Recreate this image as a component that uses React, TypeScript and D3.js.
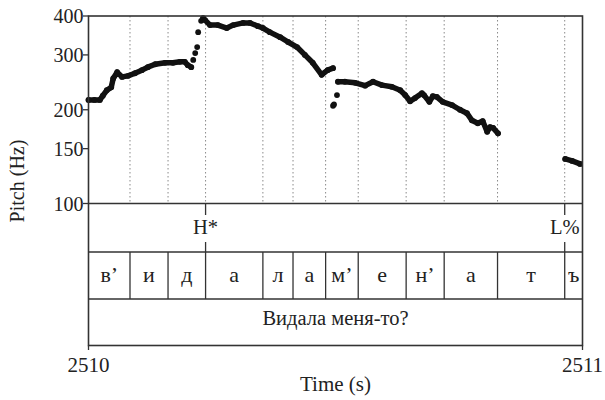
import React from "react";
import * as d3 from "d3";

// ---- data (time offsets from 2510 s, pitch in Hz) ----
const timeDomain = [2510, 2511];
const pitchTicks = [100, 150, 200, 300, 400];
const timeTicks = [2510, 2511];

const run1: [number, number][] = [
  [0.0, 215], [0.012, 215], [0.023, 215], [0.029, 222], [0.037, 231], [0.046, 236],
  [0.05, 252], [0.058, 264], [0.068, 255], [0.08, 257], [0.094, 262], [0.108, 268],
  [0.12, 274], [0.135, 280], [0.155, 283], [0.171, 283], [0.185, 285], [0.195, 285],
  [0.201, 278], [0.208, 274],
];
const rise: [number, number][] = [
  [0.212, 289], [0.216, 304], [0.22, 318], [0.222, 355], [0.228, 386],
];
const run2: [number, number][] = [
  [0.232, 394], [0.236, 388], [0.246, 374], [0.262, 374], [0.28, 366], [0.293, 374],
  [0.313, 380], [0.327, 380], [0.343, 371], [0.353, 366], [0.367, 355], [0.388, 342],
  [0.404, 330], [0.422, 318], [0.438, 300], [0.454, 283], [0.472, 259], [0.484, 268],
  [0.495, 272],
];
const dip: [number, number][] = [[0.495, 206], [0.497, 208], [0.503, 223]];
const run3: [number, number][] = [
  [0.505, 246], [0.519, 246], [0.54, 244], [0.56, 239], [0.576, 246], [0.594, 240],
  [0.614, 237], [0.631, 231], [0.641, 223], [0.651, 213], [0.661, 218], [0.675, 226],
  [0.679, 223], [0.69, 212], [0.697, 221], [0.705, 220], [0.717, 212], [0.736, 207],
  [0.752, 200], [0.766, 195], [0.776, 185], [0.788, 181], [0.798, 184], [0.807, 170],
  [0.813, 176], [0.819, 175], [0.829, 168],
];
const run4: [number, number][] = [[0.965, 139], [0.979, 137], [0.995, 134]];

const segBounds = [0, 0.084, 0.161, 0.237, 0.353, 0.414, 0.48, 0.546, 0.643, 0.72, 0.828, 0.964, 1.0];
const segLabels = ["в’", "и", "д", "а", "л", "а", "м’", "е", "н’", "а", "т", "ъ"];
const toneTimes = [0.237, 0.964];
const toneLabels = ["H*", "L%"];
const sentence = "Видала меня-то?";

export default function App() {
  const W = 605, H = 400;
  const left = 88.5, right = 582.5;
  const top = 16, pitchBottom = 203.5;
  const tier1Bottom = 252, tier2Bottom = 299, tier3Bottom = 345.5;

  const x = d3.scaleLinear().domain(timeDomain).range([left, right]);
  const y = d3.scaleLog().domain([100, 400]).range([pitchBottom, top]);
  const tx = (t: number) => x(2510 + t);

  const line = d3.line<[number, number]>().x((d) => tx(d[0])).y((d) => y(d[1]));
  const runs = [run1, run2, run3, run4];
  const allPts = [...run1, ...rise, ...run2, ...dip, ...run3, ...run4];

  const font = "'Liberation Serif', 'Times New Roman', serif";
  const frame = "#333";

  return (
    <svg width={W} height={H} style={{ position: "absolute", left: 0, top: 0, background: "#fff" }} fontFamily={font}>
      <rect x={0} y={0} width={W} height={H} fill="#fff" />
      {/* dotted boundaries in pitch panel */}
      {segBounds.slice(1, -1).map((b, i) => (
        <line key={"d" + i} x1={tx(b)} x2={tx(b)} y1={top} y2={pitchBottom} stroke="#8a8a8a" strokeWidth={1} strokeDasharray="1.5,2.5" />
      ))}
      {/* pitch */}
      {runs.map((r, i) => (
        <path key={"r" + i} d={line(r) || ""} fill="none" stroke="#111" strokeWidth={5.5} strokeLinecap="round" strokeLinejoin="round" />
      ))}
      {allPts.map((p, i) => (
        <circle key={"p" + i} cx={tx(p[0])} cy={y(p[1])} r={2.9} fill="#111" />
      ))}
      {/* frames */}
      <rect x={left} y={top} width={right - left} height={tier3Bottom - top} fill="none" stroke={frame} strokeWidth={1.6} />
      <line x1={left} x2={right} y1={pitchBottom} y2={pitchBottom} stroke={frame} strokeWidth={1.6} />
      <line x1={left} x2={right} y1={tier1Bottom} y2={tier1Bottom} stroke={frame} strokeWidth={1.5} />
      <line x1={left} x2={right} y1={tier2Bottom} y2={tier2Bottom} stroke={frame} strokeWidth={1.5} />
      {/* y axis */}
      {pitchTicks.map((v) => (
        <g key={"yt" + v}>
          <line x1={left - 5.5} x2={left} y1={y(v)} y2={y(v)} stroke={frame} strokeWidth={1.3} />
          <text x={left - 5} y={y(v)} dy="0.35em" textAnchor="end" fontSize={20} fill="#222">{v}</text>
        </g>
      ))}
      <text transform={`translate(24,181) rotate(-90)`} textAnchor="middle" fontSize={20} fill="#222">Pitch (Hz)</text>
      {/* tone tier */}
      {toneTimes.map((t, i) => (
        <g key={"tn" + i}>
          <line x1={tx(t)} x2={tx(t)} y1={pitchBottom} y2={215} stroke={frame} strokeWidth={1.3} />
          <line x1={tx(t)} x2={tx(t)} y1={242} y2={tier1Bottom} stroke={frame} strokeWidth={1.3} />
          <text x={tx(t)} y={234} textAnchor="middle" fontSize={20.5} fill="#222">{toneLabels[i]}</text>
        </g>
      ))}
      {/* segment tier */}
      {segBounds.slice(1, -1).map((b, i) => (
        <line key={"sb" + i} x1={tx(b)} x2={tx(b)} y1={tier1Bottom} y2={tier2Bottom} stroke={frame} strokeWidth={1.3} />
      ))}
      {segLabels.map((s, i) => (
        <text key={"sl" + i} x={(tx(segBounds[i]) + tx(segBounds[i + 1])) / 2} y={282} textAnchor="middle" fontSize={22} fill="#222">{s}</text>
      ))}
      {/* sentence tier */}
      <text x={(left + right) / 2} y={325} textAnchor="middle" fontSize={20.5} fill="#222">{sentence}</text>
      {/* x axis */}
      {timeTicks.map((v) => (
        <g key={"xt" + v}>
          <line x1={x(v)} x2={x(v)} y1={tier3Bottom} y2={tier3Bottom + 4.5} stroke={frame} strokeWidth={1.3} />
          <text x={x(v)} y={372} textAnchor="middle" fontSize={21} fill="#222">{v}</text>
        </g>
      ))}
      <text x={(left + right) / 2} y={391} textAnchor="middle" fontSize={21} fill="#222">Time (s)</text>
    </svg>
  );
}
